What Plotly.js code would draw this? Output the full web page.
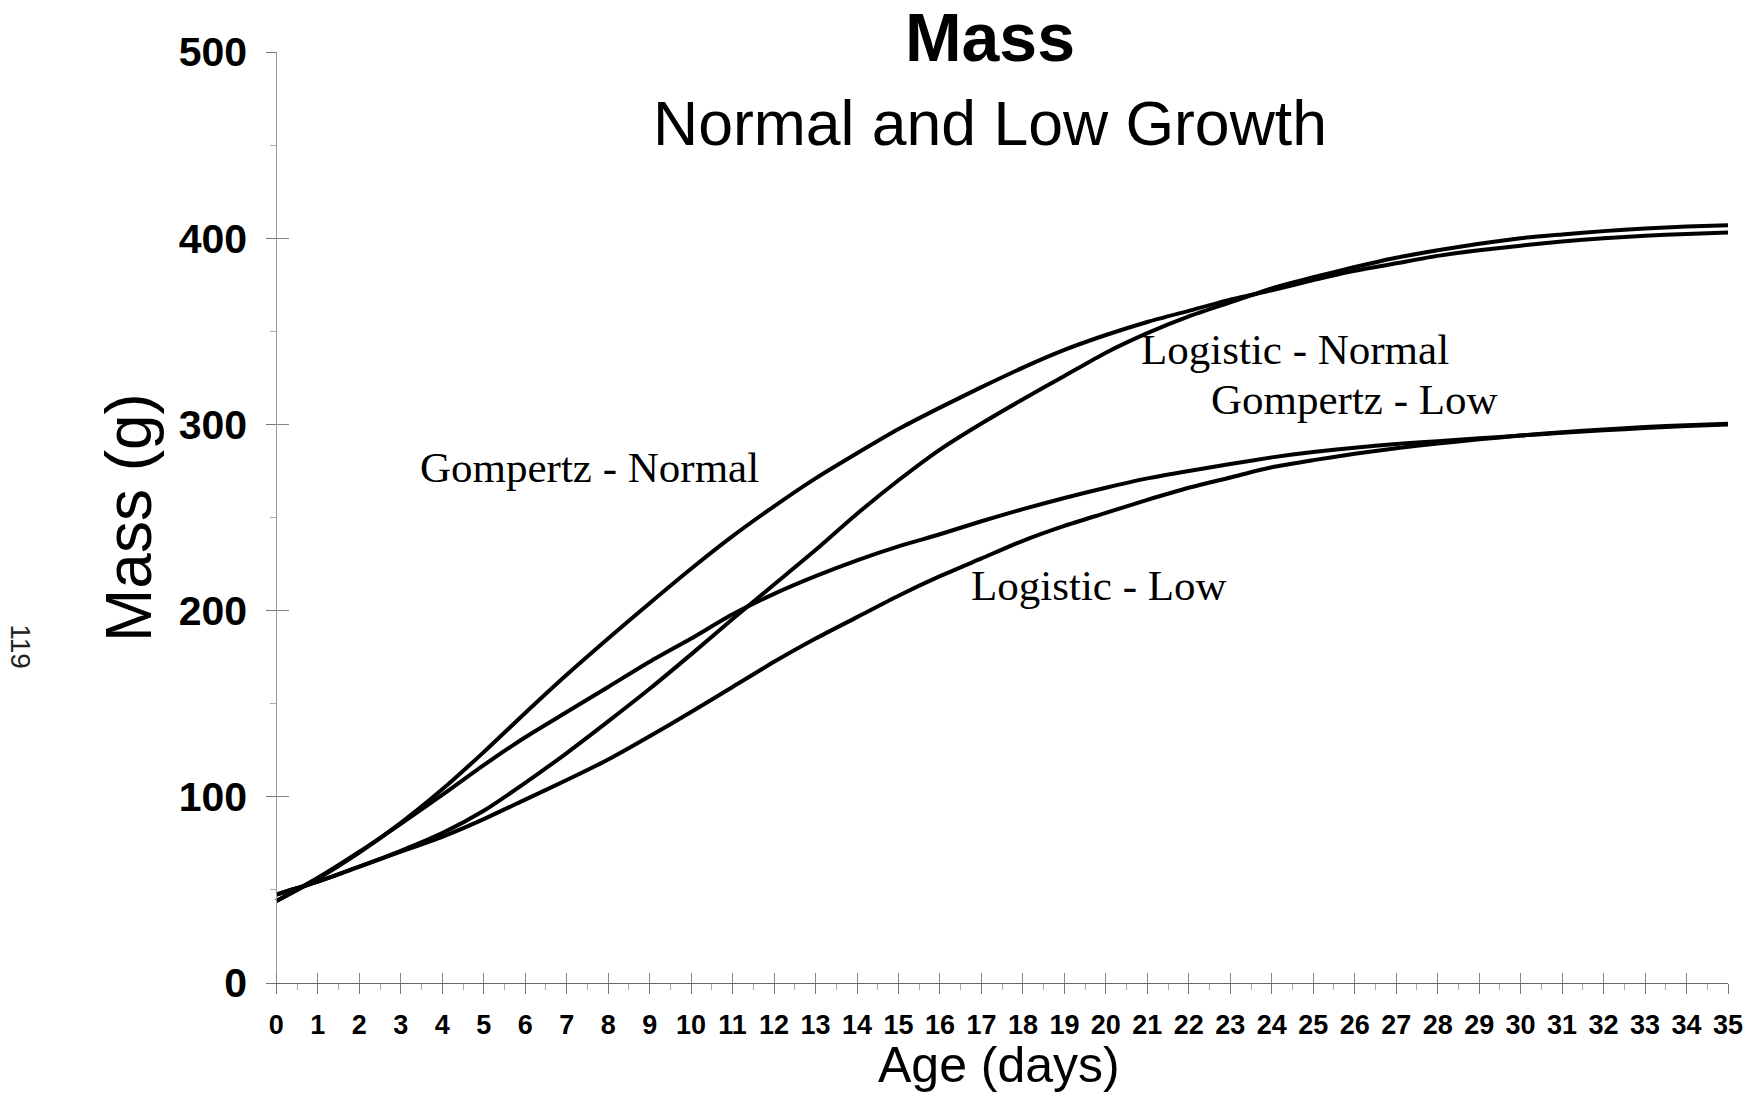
<!DOCTYPE html>
<html><head><meta charset="utf-8">
<script src="https://cdn.plot.ly/plotly-3.0.1.min.js"></script>
<style>html,body{margin:0;padding:0;background:#fff;} #chart{width:1754px;height:1096px;}</style>
</head><body><div id="chart"></div>
<script>
const days = [0,1,2,3,4,5,6,7,8,9,10,11,12,13,14,15,16,17,18,19,20,21,22,23,24,25,26,27,28,29,30,31,32,33,34,35];
const gompertzNormal = [44,56,70,86,104,124,145,165.5,185,204,222.5,240,256,271,284.5,297.5,309,320,330.5,340,348,355,361,367,372,377.5,382.5,386.5,390.5,393.5,396,398.2,400,401.3,402.3,403];
const logisticNormal = [47.5,54.5,62.5,71,80.5,92.5,107.5,123.5,140.5,158,176.5,195.5,214,232.5,252,270,286.5,300.5,313.5,326,338.5,349,358,365.5,373,379,384.5,389.5,393.5,397,400,402,403.8,405.2,406.3,407];
const gompertzLow = [44,56.5,70.5,85.5,101,117,132,145.5,159,172.5,185,198,209,218.5,227,234.5,241,248,254.5,260.5,266,271,275,278.7,282.3,285.2,287.5,289.5,291,292.5,294,295.5,296.8,298,299.2,300];
const logisticLow = [47.5,54.5,62.5,70.5,78.5,88,98.5,109,120,132.5,145.5,159,172.5,185,196.5,208,218.5,228,237.5,245.5,252.5,259.5,266,271.5,277,280.8,284.2,287.2,289.7,292,294,295.8,297.3,298.6,299.6,300.3];
const seriesNames = ["Gompertz - Normal","Logistic - Normal","Gompertz - Low","Logistic - Low"];
const labelX = [7.54, 24.55, 26.0, 19.84];
const labelY = [276.6, 340, 313.5, 213.3];
const xTickVals = days;
const yTickVals = [0,100,200,300,400,500];

const series = [gompertzNormal, logisticNormal, gompertzLow, logisticLow];
const traces = series.map((ys, i) => ({
  x: days, y: ys, type: 'scatter', mode: 'lines', name: seriesNames[i],
  line: {color: '#000', width: 4, shape: 'spline', smoothing: 0.6},
  hoverinfo: 'skip'
}));
traces.push({x: [], y: [], xaxis: 'x2', yaxis: 'y2', type: 'scatter', mode: 'lines', showlegend: false});

const sans = 'Liberation Sans, Arial, Helvetica, sans-serif';
const serif = 'Liberation Serif, Times New Roman, serif';
const xRange = [-0.25, 35];
const yAxisPos = (0 - xRange[0]) / (xRange[1] - xRange[0]);

const annotations = seriesNames.map((t, i) => ({
  text: t, x: labelX[i], y: labelY[i], xref: 'x', yref: 'y', showarrow: false,
  xanchor: 'center', yanchor: 'middle', font: {family: serif, size: 43, color: '#000'}
}));
annotations.push(
  {text: 'Normal and Low Growth', xref: 'paper', yref: 'paper', x: 0.4952, y: 0.9237, showarrow: false,
   xanchor: 'center', yanchor: 'middle', font: {family: sans, size: 62.5, color: '#000'}},
  {text: 'Mass (g)', xref: 'paper', yref: 'paper', x: -0.0937, y: 0.4995, textangle: -90, showarrow: false,
   xanchor: 'center', yanchor: 'middle', font: {family: sans, size: 64, color: '#000'}},
  {text: 'Age (days)', xref: 'paper', yref: 'paper', x: 0.5014, y: -0.0881, showarrow: false,
   xanchor: 'center', yanchor: 'middle', font: {family: sans, size: 50, color: '#000'}},
  {text: '119', xref: 'paper', yref: 'paper', x: -0.1685, y: 0.361, textangle: 90, showarrow: false,
   xanchor: 'center', yanchor: 'middle', font: {family: sans, size: 28, color: '#222'}}
);

const layout = {
  width: 1754, height: 1096,
  margin: {l: 266, r: 26, t: 52, b: 113},
  paper_bgcolor: '#fff', plot_bgcolor: '#fff',
  showlegend: false,
  title: {text: '<b>Mass</b>', x: 0.5644, xanchor: 'center', y: 0.966, yanchor: 'middle',
          font: {family: sans, size: 68, color: '#000'}},
  xaxis: {range: xRange, tickvals: xTickVals, ticktext: xTickVals.map(String),
          showgrid: false, zeroline: false, showline: true, linecolor: '#666', linewidth: 1,
          ticks: 'outside', ticklen: 10, tickcolor: '#777', tickwidth: 1,
          minor: {dtick: 0.5, ticks: 'outside', ticklen: 6, tickcolor: '#aaa'},
          ticklabelstandoff: 8,
          tickfont: {family: sans, size: 27, color: '#000', weight: 'bold'}},
  yaxis: {range: [0, 500], tickvals: yTickVals, ticktext: yTickVals.map(String),
          anchor: 'free', position: yAxisPos,
          showgrid: false, zeroline: false, showline: true, linecolor: '#999', linewidth: 1,
          ticks: 'outside', ticklen: 10, tickcolor: '#777', tickwidth: 1,
          minor: {dtick: 50, ticks: 'outside', ticklen: 6, tickcolor: '#aaa'},
          ticklabelstandoff: 11,
          tickfont: {family: sans, size: 41, color: '#000', weight: 'bold'}},
  xaxis2: {range: xRange, overlaying: 'x', anchor: 'y', side: 'bottom', dtick: 1, tick0: 0,
           showgrid: false, zeroline: false, showline: false, showticklabels: false,
           ticks: 'inside', ticklen: 10, tickcolor: '#888'},
  yaxis2: {range: [0, 500], overlaying: 'y', anchor: 'free', position: yAxisPos, side: 'left', dtick: 100, tick0: 0,
           showgrid: false, zeroline: false, showline: false, showticklabels: false,
           ticks: 'inside', ticklen: 12, tickcolor: '#888'},
  annotations: annotations
};

Plotly.newPlot('chart', traces, layout, {staticPlot: true, displayModeBar: false});
</script>
</body></html>
